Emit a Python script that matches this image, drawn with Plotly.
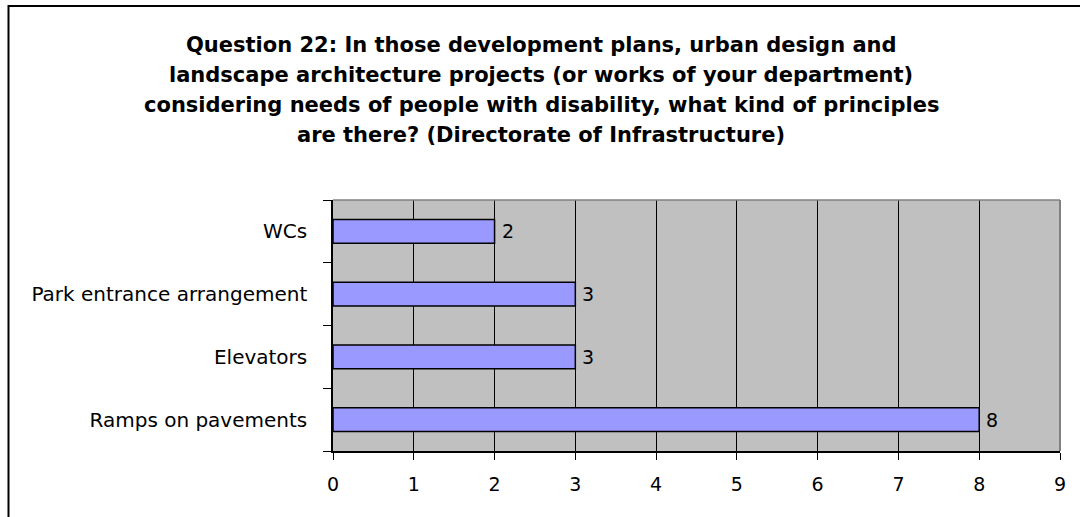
import plotly.graph_objects as go

# Survey answers (Directorate of Infrastructure)
categories = ["Ramps on pavements", "Elevators", "Park entrance arrangement", "WCs"]
counts = [8, 3, 3, 2]
x_ticks = [0, 1, 2, 3, 4, 5, 6, 7, 8, 9]
title_lines = [
    "Question 22: In those development plans, urban design and",
    "landscape architecture projects (or works of your department)",
    "considering needs of people with disability, what kind of principles",
    "are there? (Directorate of Infrastructure)",
]

W, H = 1080, 517
FONT = "DejaVu Sans, Arial, sans-serif"

fig = go.Figure(
    go.Bar(
        y=categories,
        x=counts,
        orientation="h",
        width=0.38,
        marker=dict(color="#9999FF", line=dict(color="#000000", width=1.5)),
        hoverinfo="skip",
    )
)

# value labels just right of each bar end
for cat, val in zip(categories, counts):
    fig.add_annotation(
        x=val, y=cat, xref="x", yref="y", text=str(val),
        xanchor="left", yanchor="middle", xshift=5, showarrow=False,
        font=dict(family=FONT, size=19, color="#000000"),
    )

# plot area placement in pixels
px_left, px_right, px_top, px_bottom = 333, 1060, 200, 451

fig.update_layout(
    width=W,
    height=H,
    autosize=False,
    margin=dict(l=0, r=0, t=0, b=0, pad=0, autoexpand=False),
    paper_bgcolor="#FFFFFF",
    plot_bgcolor="#C0C0C0",
    showlegend=False,
    font=dict(family=FONT, size=19, color="#000000"),
    xaxis=dict(
        domain=[px_left / W, px_right / W],
        range=[0, 9],
        tickvals=x_ticks,
        ticktext=[str(v) for v in x_ticks],
        showgrid=True,
        gridcolor="#000000",
        gridwidth=1,
        zeroline=False,
        showline=True,
        linecolor="#000000",
        linewidth=1.5,
        ticks="outside",
        ticklen=7,
        tickcolor="#000000",
        tickwidth=1,
        tickfont=dict(family=FONT, size=19),
        ticklabelstandoff=8,
        automargin=False,
        fixedrange=True,
    ),
    yaxis=dict(
        domain=[1 - px_bottom / H, 1 - px_top / H],
        type="category",
        categoryorder="array",
        categoryarray=categories,
        tickson="boundaries",
        ticks="outside",
        ticklen=8,
        tickcolor="#000000",
        tickwidth=1,
        showgrid=False,
        showline=True,
        linecolor="#000000",
        linewidth=1.5,
        tickfont=dict(family=FONT, size=20),
        ticklabelstandoff=20,
        automargin=False,
        fixedrange=True,
    ),
)

# top and right edges of the plot area
fig.add_shape(type="line", xref="paper", yref="paper",
              x0=px_left / W, x1=px_right / W, y0=1 - px_top / H, y1=1 - px_top / H,
              line=dict(color="#808080", width=1.5))
fig.add_shape(type="line", xref="paper", yref="paper",
              x0=px_right / W, x1=px_right / W, y0=1 - px_top / H, y1=1 - px_bottom / H,
              line=dict(color="#808080", width=2))

# chart frame
fig.add_shape(type="rect", xref="paper", yref="paper",
              x0=8.5 / W, x1=1.05, y0=-0.05, y1=1 - 6 / H,
              line=dict(color="#000000", width=2), fillcolor="rgba(0,0,0,0)")

# title, one annotation per line
line_y = [45, 75, 105, 135]
for txt, yy in zip(title_lines, line_y):
    fig.add_annotation(
        text=f"<b>{txt}</b>", xref="paper", yref="paper",
        x=541 / W, y=1 - yy / H, xanchor="center", yanchor="middle",
        showarrow=False, font=dict(family=FONT, size=21, color="#000000"),
    )

fig.write_html("out.html")
